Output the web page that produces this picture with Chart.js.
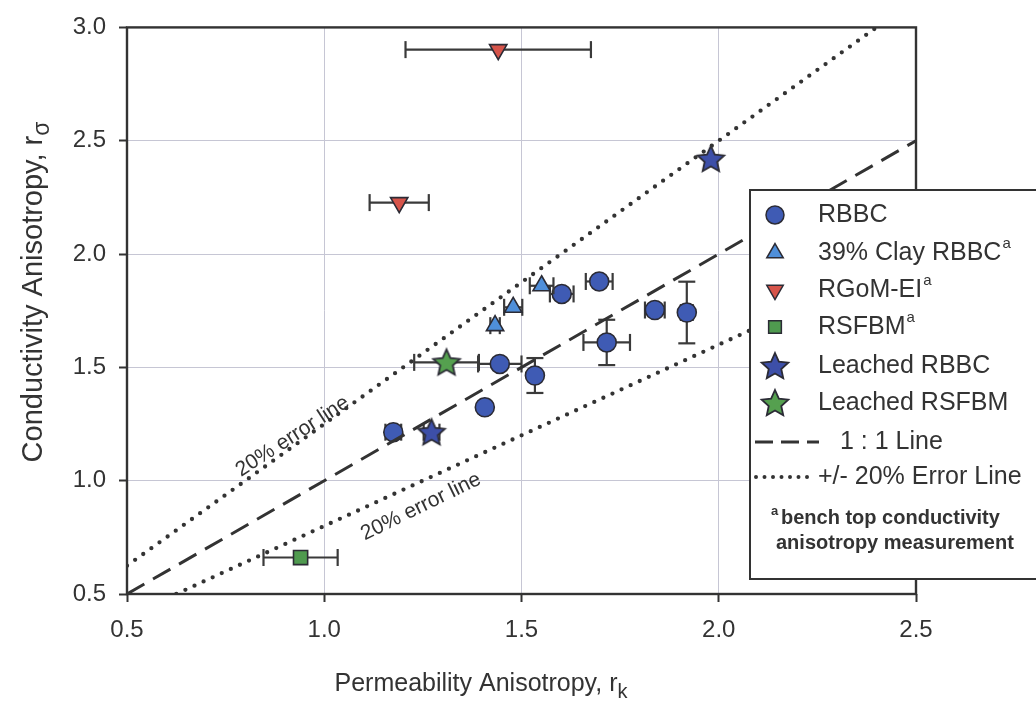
<!DOCTYPE html>
<html><head><meta charset="utf-8">
<script src="https://cdn.jsdelivr.net/npm/chart.js@4.4.0/dist/chart.umd.min.js"></script>
<style>html,body{margin:0;padding:0;background:#fff;}#wrap{width:1036px;height:708px;position:relative;}</style>
</head><body><div id="wrap"><canvas id="c"></canvas></div>
<script>
// ---- data ----
const rbbcX = [1.175, 1.407, 1.445, 1.534, 1.602, 1.697, 1.716, 1.838, 1.919];
const rbbcY = [1.214, 1.324, 1.515, 1.464, 1.824, 1.879, 1.610, 1.753, 1.742];
const rbbcXErr = [0.02, 0.012, 0.055, 0.01, 0.03, 0.034, 0.059, 0.025, 0.015];
const rbbcYErr = [0, 0, 0, 0.077, 0, 0, 0.10, 0, 0.136];
const clayX = [1.433, 1.479, 1.551];
const clayY = [1.684, 1.765, 1.860];
const clayXErr = [0.012, 0.023, 0.03];
const rgomX = [1.190, 1.441];
const rgomY = [2.227, 2.902];
const rgomXErr = [0.075, 0.235];
const rsfbmX = [0.940];
const rsfbmY = [0.661];
const rsfbmXErr = [0.094];
const lrbbcX = [1.272, 1.98];
const lrbbcY = [1.214, 2.42];
const lrbbcXErr = [0.02, 0];
const lrsfbmX = [1.310];
const lrsfbmY = [1.522];
const lrsfbmXErr = [0.082];
const oneX = [0.5, 2.5], oneY = [0.5, 2.5];
const upX = [0.5, 2.4], upY = [0.625, 3.0];
const loX = [0.625, 2.5], loY = [0.5, 2.0];
const xTicks = [0.5, 1.0, 1.5, 2.0, 2.5];
const yTicks = [0.5, 1.0, 1.5, 2.0, 2.5, 3.0];
const legendLabels = ['RBBC', '39% Clay RBBC', 'RGoM-EI', 'RSFBM', 'Leached RBBC', 'Leached RSFBM', '1 : 1 Line', '+/- 20% Error Line'];
const footnote = ['bench top conductivity', 'anisotropy measurement'];
const xTitle = ['Permeability Anisotropy, r', 'k'];
const yTitle = ['Conductivity Anisotropy, r', 'σ'];
const errLabel = '20% error line';

// ---- styles ----
const C_RBBC = '#3f5bb4', C_CLAY = '#4f8fda', C_RGOM = '#d6544a', C_RSF = '#4f9a4f', C_LSTAR = '#3d4fa8', C_GSTAR = '#55a04f';
const OUT = '#2b2b35', INK = '#333333';
const FONT = '"Liberation Sans", Arial, sans-serif';

function pts(xs, ys) { return xs.map((x, i) => ({x: x, y: ys[i]})); }
function starCanvas(fill, R) {
  const s = Math.ceil(R * 2 + 4), c = document.createElement('canvas');
  c.width = s; c.height = s;
  const g = c.getContext('2d'), cx = s / 2, cy = s / 2 + 1, r = R * 0.47;
  g.beginPath();
  for (let i = 0; i < 10; i++) {
    const a = -Math.PI / 2 + i * Math.PI / 5, rr = i % 2 ? r : R;
    g.lineTo(cx + rr * Math.cos(a), cy + rr * Math.sin(a));
  }
  g.closePath(); g.fillStyle = fill; g.fill(); g.lineWidth = 1.8; g.strokeStyle = OUT; g.stroke();
  return c;
}
const starBlue = starCanvas(C_LSTAR, 14), starGreen = starCanvas(C_GSTAR, 14);

const errorBars = {
  id: 'errorBars',
  beforeDatasetDraw(chart, args) {
    const ds = chart.data.datasets[args.index];
    if (!ds.errX && !ds.errY) return;
    const ctx = chart.ctx, xs = chart.scales.x, ys = chart.scales.y, cap = 8.5;
    ctx.save(); ctx.strokeStyle = '#3a3a3a'; ctx.lineWidth = 2.2;
    const seg = (a, b, c, d) => { ctx.beginPath(); ctx.moveTo(a, b); ctx.lineTo(c, d); ctx.stroke(); };
    ds.data.forEach((p, i) => {
      const px = xs.getPixelForValue(p.x), py = ys.getPixelForValue(p.y);
      const ex = ds.errX ? ds.errX[i] : 0, ey = ds.errY ? ds.errY[i] : 0;
      if (ex > 0) {
        const x1 = xs.getPixelForValue(p.x - ex), x2 = xs.getPixelForValue(p.x + ex);
        seg(x1, py, x2, py); seg(x1, py - cap, x1, py + cap); seg(x2, py - cap, x2, py + cap);
      }
      if (ey > 0) {
        const y1 = ys.getPixelForValue(p.y - ey), y2 = ys.getPixelForValue(p.y + ey);
        seg(px, y1, px, y2); seg(px - cap, y1, px + cap, y1); seg(px - cap, y2, px + cap, y2);
      }
    });
    ctx.restore();
  }
};

function subText(ctx, main, sub, size, subSize, drop, x, y, align) {
  ctx.font = size + 'px ' + FONT; const w1 = ctx.measureText(main).width;
  ctx.font = subSize + 'px ' + FONT; const w2 = ctx.measureText(sub).width;
  let sx = align === 'center' ? x - (w1 + w2) / 2 : x;
  ctx.textAlign = 'left'; ctx.textBaseline = 'alphabetic';
  ctx.font = size + 'px ' + FONT; ctx.fillText(main, sx, y);
  ctx.font = subSize + 'px ' + FONT; ctx.fillText(sub, sx + w1, y + drop);
}
function supText(ctx, main, sup, size, supSize, rise, x, y) {
  ctx.font = size + 'px ' + FONT; const w1 = ctx.measureText(main).width;
  ctx.textAlign = 'left'; ctx.textBaseline = 'middle'; ctx.fillText(main, x, y);
  if (sup) { ctx.font = supSize + 'px ' + FONT; ctx.fillText(sup, x + w1 + 1, y - rise); }
}

const decor = {
  id: 'decor',
  afterDatasetsDraw(chart) {
    const ctx = chart.ctx, a = chart.chartArea, xs = chart.scales.x, ys = chart.scales.y;
    ctx.save();
    ctx.strokeStyle = INK; ctx.lineWidth = 2.4; ctx.strokeRect(a.left, a.top, a.right - a.left, a.bottom - a.top);
    ctx.fillStyle = INK; ctx.font = '21px ' + FONT; ctx.textAlign = 'center'; ctx.textBaseline = 'middle';
    ctx.save(); ctx.translate(xs.getPixelForValue(0.92), ys.getPixelForValue(1.195)); ctx.rotate(-33 * Math.PI / 180); ctx.fillText(errLabel, 0, 0); ctx.restore();
    ctx.save(); ctx.translate(xs.getPixelForValue(1.245), ys.getPixelForValue(0.885)); ctx.rotate(-26 * Math.PI / 180); ctx.fillText(errLabel, 0, 0); ctx.restore();
    ctx.restore();
  },
  afterDraw(chart) {
    const ctx = chart.ctx;
    ctx.save(); ctx.fillStyle = INK;
    subText(ctx, xTitle[0], xTitle[1], 25, 20, 7, 481, 691, 'center');
    ctx.save(); ctx.translate(42, 292); ctx.rotate(-Math.PI / 2);
    subText(ctx, yTitle[0], yTitle[1], 29, 23, 7, 0, 0, 'center'); ctx.restore();
    const L = 750, T = 190, B = 579;
    ctx.fillStyle = '#fff'; ctx.fillRect(L, T, 320, B - T);
    ctx.strokeStyle = INK; ctx.lineWidth = 2; ctx.strokeRect(L, T, 320, B - T);
    const rows = [215, 253, 290, 327, 366, 403, 442, 477], mx = 775, tx = 818;
    const P = Chart.helpers;
    const mk = (style, r, fill, y, rot) => {
      ctx.fillStyle = fill; ctx.strokeStyle = OUT; ctx.lineWidth = 1.5;
      P.drawPoint(ctx, {pointStyle: style, radius: r, rotation: rot || 0, borderWidth: 1.5}, mx, y);
    };
    mk('circle', 9, C_RBBC, rows[0]);
    mk('triangle', 9.5, C_CLAY, rows[1]);
    mk('triangle', 9.5, C_RGOM, rows[2], 180);
    mk('rect', 9, C_RSF, rows[3]);
    ctx.drawImage(starBlue, mx - starBlue.width / 2, rows[4] - starBlue.height / 2);
    ctx.drawImage(starGreen, mx - starGreen.width / 2, rows[5] - starGreen.height / 2);
    ctx.strokeStyle = INK; ctx.lineWidth = 2.8;
    ctx.setLineDash([18, 8]); ctx.beginPath(); ctx.moveTo(755, rows[6]); ctx.lineTo(819, rows[6]); ctx.stroke();
    ctx.setLineDash([0, 8.5]); ctx.lineCap = 'round'; ctx.lineWidth = 4; ctx.beginPath(); ctx.moveTo(756, rows[7]); ctx.lineTo(815, rows[7]); ctx.stroke();
    ctx.setLineDash([]); ctx.lineCap = 'butt';
    ctx.fillStyle = INK;
    supText(ctx, legendLabels[0], '', 25, 15, 9, tx, rows[0]);
    supText(ctx, legendLabels[1], 'a', 25, 15, 9, tx, rows[1]);
    supText(ctx, legendLabels[2], 'a', 25, 15, 9, tx, rows[2]);
    supText(ctx, legendLabels[3], 'a', 25, 15, 9, tx, rows[3]);
    supText(ctx, legendLabels[4], '', 25, 15, 9, tx, rows[4]);
    supText(ctx, legendLabels[5], '', 25, 15, 9, tx, rows[5]);
    supText(ctx, legendLabels[6], '', 25, 15, 9, 840, rows[6]);
    supText(ctx, legendLabels[7], '', 25, 15, 9, tx, rows[7]);
    ctx.font = 'bold 13px ' + FONT; ctx.textBaseline = 'middle'; ctx.fillText('a', 771, 511);
    ctx.font = 'bold 20px ' + FONT; ctx.fillText(footnote[0], 781, 518); ctx.fillText(footnote[1], 776, 543);
    ctx.restore();
  }
};

const lineDs = (xs, ys, dash, w, cap) => ({
  type: 'line', data: pts(xs, ys), showLine: true, pointRadius: 0, borderColor: INK, borderWidth: w,
  borderDash: dash, borderCapStyle: cap || 'butt', fill: false, tension: 0
});
const scat = (xs, ys, style, r, fill, extra) => Object.assign({
  type: 'scatter', data: pts(xs, ys), pointStyle: style, pointRadius: r, pointHoverRadius: r,
  backgroundColor: fill, borderColor: OUT, borderWidth: 1.6
}, extra || {});

new Chart(document.getElementById('c'), {
  type: 'scatter',
  data: {
    datasets: [
      lineDs(oneX, oneY, [20, 10], 3),
      lineDs(upX, upY, [0, 10], 4.3, 'round'),
      lineDs(loX, loY, [0, 10], 4.3, 'round'),
      scat(rsfbmX, rsfbmY, 'rect', 10, C_RSF, {errX: rsfbmXErr}),
      scat(rgomX, rgomY, 'triangle', 10, C_RGOM, {errX: rgomXErr, rotation: 180}),
      scat(lrsfbmX, lrsfbmY, starGreen, 14, C_GSTAR, {errX: lrsfbmXErr}),
      scat(clayX, clayY, 'triangle', 10, C_CLAY, {errX: clayXErr}),
      scat(rbbcX, rbbcY, 'circle', 9.5, C_RBBC, {errX: rbbcXErr, errY: rbbcYErr}),
      scat(lrbbcX, lrbbcY, starBlue, 14, C_LSTAR, {errX: lrbbcXErr})
    ]
  },
  options: {
    responsive: true, maintainAspectRatio: false, animation: false,
    layout: {padding: {top: 26, right: 120, left: 0, bottom: 0}},
    plugins: {legend: {display: false}, tooltip: {enabled: false}},
    scales: {
      x: {
        type: 'linear', min: 0.5, max: 2.5,
        afterBuildTicks: s => { s.ticks = xTicks.map(v => ({value: v})); },
        afterFit: s => { s.height = 114; },
        grid: {color: '#c6c6d4', lineWidth: 1, drawTicks: true, tickLength: 8, tickColor: INK, tickWidth: 2},
        border: {display: false},
        ticks: {color: INK, font: {family: FONT, size: 24}, padding: 14, maxRotation: 0, callback: v => v.toFixed(1)}
      },
      y: {
        type: 'linear', min: 0.5, max: 3.0,
        afterBuildTicks: s => { s.ticks = yTicks.map(v => ({value: v})); },
        afterFit: s => { s.width = 127; },
        grid: {color: '#c6c6d4', lineWidth: 1, drawTicks: true, tickLength: 8, tickColor: INK, tickWidth: 2},
        border: {display: false},
        ticks: {color: INK, font: {family: FONT, size: 24}, padding: 13, callback: v => v.toFixed(1)}
      }
    }
  },
  plugins: [errorBars, decor]
});
</script></body></html>
